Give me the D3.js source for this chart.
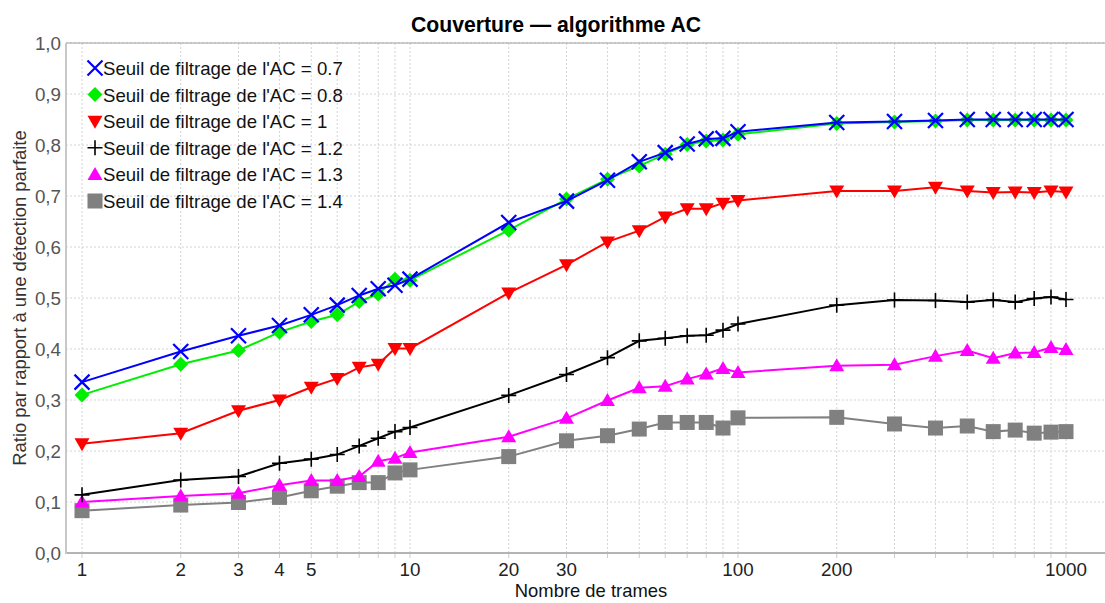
<!DOCTYPE html>
<html>
<head>
<meta charset="utf-8">
<script src="https://cdn.jsdelivr.net/npm/d3@7"></script>
<style>
  body { margin: 0; background: #fff; }
  text { font-family: "Liberation Sans", Arial, sans-serif; }
</style>
</head>
<body>
<script>
// data
var frames = [1,2,3,4,5,6,7,8,9,10,20,30,40,50,60,70,80,90,100,200,300,400,500,600,700,800,900,1000];
var xTickLabels = [1,2,3,4,5,10,20,30,100,200,1000];
var yTicks = [0,0.1,0.2,0.3,0.4,0.5,0.6,0.7,0.8,0.9,1.0];

var seuil07 = [0.335,0.395,0.426,0.446,0.467,0.486,0.505,0.518,0.525,0.537,0.648,0.690,0.731,0.767,0.785,0.802,0.812,0.813,0.826,0.844,0.846,0.848,0.850,0.850,0.850,0.850,0.850,0.850];
var seuil08 = [0.310,0.370,0.397,0.433,0.454,0.467,0.493,0.508,0.537,0.535,0.633,0.694,0.733,0.759,0.782,0.801,0.808,0.810,0.821,0.842,0.845,0.847,0.849,0.849,0.849,0.849,0.849,0.849];
var seuil10 = [0.214,0.235,0.279,0.300,0.325,0.342,0.364,0.370,0.401,0.401,0.510,0.565,0.610,0.632,0.659,0.675,0.675,0.686,0.691,0.710,0.710,0.717,0.710,0.707,0.708,0.707,0.710,0.708];
var seuil12 = [0.114,0.143,0.150,0.176,0.184,0.193,0.210,0.225,0.238,0.246,0.309,0.350,0.383,0.416,0.421,0.426,0.427,0.437,0.449,0.486,0.496,0.495,0.492,0.496,0.492,0.499,0.502,0.497];
var seuil13 = [0.100,0.112,0.117,0.133,0.142,0.142,0.150,0.180,0.186,0.197,0.228,0.264,0.299,0.324,0.327,0.341,0.351,0.362,0.354,0.367,0.369,0.386,0.397,0.382,0.392,0.393,0.403,0.399];
var seuil14 = [0.083,0.094,0.099,0.109,0.122,0.131,0.138,0.138,0.157,0.163,0.189,0.220,0.230,0.243,0.256,0.256,0.256,0.245,0.265,0.266,0.253,0.245,0.249,0.238,0.241,0.235,0.237,0.238];

var seriesNames = ["Seuil de filtrage de l'AC = 0.7","Seuil de filtrage de l'AC = 0.8","Seuil de filtrage de l'AC = 1","Seuil de filtrage de l'AC = 1.2","Seuil de filtrage de l'AC = 1.3","Seuil de filtrage de l'AC = 1.4"];
var seriesValues = [seuil07, seuil08, seuil10, seuil12, seuil13, seuil14];
var seriesColors = ["#0000ff","#00ee00","#ff0000","#000000","#ff00ff","#808080"];
var seriesSymbols = ["cross","diamond","down","plus","up","square"];

var width = 1105, height = 603;
var plotLeft = 66, plotRight = 1105, plotTop = 43, plotBottom = 553;

var svg = d3.select("body").append("svg")
	.attr("width", width)
	.attr("height", height);

var x = d3.scaleLog().domain([1, 1000]).range([82, 1066]);
var y = d3.scaleLinear().domain([0, 1]).range([plotBottom, plotTop]);

// grid
var gridX = [];
[1,10,100].forEach(function(d) { for (var k = 1; k < 10; k++) gridX.push(d*k); });
gridX.push(1000);

svg.append("g").selectAll("line.gx")
	.data(gridX)
	.enter().append("line")
	.attr("x1", function(d) { return x(d); })
	.attr("x2", function(d) { return x(d); })
	.attr("y1", plotTop)
	.attr("y2", plotBottom)
	.attr("stroke", "#d4d4d4")
	.attr("stroke-dasharray", "2,2")
	.attr("stroke-width", 1);

svg.append("g").selectAll("line.gy")
	.data(yTicks.slice(1))
	.enter().append("line")
	.attr("x1", plotLeft)
	.attr("x2", plotRight)
	.attr("y1", function(d) { return y(d); })
	.attr("y2", function(d) { return y(d); })
	.attr("stroke", "#d4d4d4")
	.attr("stroke-dasharray", "2,2")
	.attr("stroke-width", 1);

// frame
svg.append("line").attr("x1", plotLeft).attr("x2", plotRight).attr("y1", plotTop).attr("y2", plotTop)
	.attr("stroke", "#a0a0a0").attr("stroke-width", 1);
svg.append("line").attr("x1", plotLeft).attr("x2", plotRight).attr("y1", plotBottom).attr("y2", plotBottom)
	.attr("stroke", "#b4b4b4").attr("stroke-width", 2);
svg.append("line").attr("x1", plotLeft).attr("x2", plotLeft).attr("y1", plotTop).attr("y2", plotBottom + 1)
	.attr("stroke", "#c8c8c8").attr("stroke-width", 2);

// x ticks
svg.append("g").selectAll("line.tx")
	.data(gridX)
	.enter().append("line")
	.attr("x1", function(d) { return x(d); })
	.attr("x2", function(d) { return x(d); })
	.attr("y1", plotBottom + 1)
	.attr("y2", plotBottom + 5)
	.attr("stroke", "#cccccc");

svg.append("g").selectAll("text.xl")
	.data(xTickLabels)
	.enter().append("text")
	.attr("x", function(d) { return x(d); })
	.attr("y", 576)
	.attr("text-anchor", "middle")
	.attr("font-size", 18.8)
	.attr("fill", "#222")
	.text(function(d) { return d; });

svg.append("g").selectAll("text.yl")
	.data(yTicks)
	.enter().append("text")
	.attr("x", 61)
	.attr("y", function(d) { return y(d) + 7; })
	.attr("text-anchor", "end")
	.attr("font-size", 18.8)
	.attr("fill", "#555")
	.text(function(d) { return d.toFixed(1).replace(".", ","); });

// titles
svg.append("text")
	.attr("x", 556).attr("y", 32)
	.attr("text-anchor", "middle")
	.attr("font-size", 21.2)
	.attr("font-weight", "bold")
	.attr("fill", "#000")
	.text("Couverture \u2014 algorithme AC");

svg.append("text")
	.attr("x", 591).attr("y", 597)
	.attr("text-anchor", "middle")
	.attr("font-size", 18.4)
	.attr("fill", "#111")
	.text("Nombre de trames");

svg.append("text")
	.attr("transform", "translate(26," + ((plotTop + plotBottom) / 2) + ") rotate(-90)")
	.attr("text-anchor", "middle")
	.attr("font-size", 18.4)
	.attr("fill", "#333")
	.text("Ratio par rapport \u00e0 une d\u00e9tection parfaite");

// markers
function drawMarker(g, sym, color) {
	if (sym == "cross") {
		g.append("path").attr("d", "M-7.5,-7.5L7.5,7.5M-7.5,7.5L7.5,-7.5")
			.attr("stroke", color).attr("stroke-width", 2.2).attr("fill", "none");
	} else if (sym == "plus") {
		g.append("path").attr("d", "M-7.5,0L7.5,0M0,-7.5L0,7.5")
			.attr("stroke", color).attr("stroke-width", 1.6).attr("fill", "none");
	} else if (sym == "diamond") {
		g.append("path").attr("d", "M0,-7.5L7.5,0L0,7.5L-7.5,0Z").attr("fill", color);
	} else if (sym == "down") {
		g.append("path").attr("d", "M-7.5,-5.5L7.5,-5.5L0,7.5Z").attr("fill", color);
	} else if (sym == "up") {
		g.append("path").attr("d", "M-7.5,5.5L7.5,5.5L0,-7.5Z").attr("fill", color);
	} else if (sym == "square") {
		g.append("rect").attr("x", -7.5).attr("y", -7.5).attr("width", 15).attr("height", 15).attr("fill", color);
	}
}

var line = d3.line()
	.x(function(d) { return x(d[0]); })
	.y(function(d) { return y(d[1]); });

for (var s = seriesValues.length - 1; s >= 0; s--) {
	var pts = frames.map(function(f, i) { return [f, seriesValues[s][i]]; });
	var g = svg.append("g");
	g.append("path")
		.datum(pts)
		.attr("d", line)
		.attr("fill", "none")
		.attr("stroke", seriesColors[s])
		.attr("stroke-width", 2);
	g.selectAll("g.m")
		.data(pts)
		.enter().append("g")
		.attr("transform", function(d) { return "translate(" + x(d[0]) + "," + y(d[1]) + ")"; })
		.each(function() { drawMarker(d3.select(this), seriesSymbols[s], seriesColors[s]); });
}

// legend
var legend = svg.append("g");
seriesNames.forEach(function(name, i) {
	var ly = 68 + i * 26.6;
	var mg = legend.append("g").attr("transform", "translate(95," + ly + ")");
	drawMarker(mg, seriesSymbols[i], seriesColors[i]);
	legend.append("text")
		.attr("x", 103)
		.attr("y", ly + 7)
		.attr("font-size", 18.6)
		.attr("fill", "#111")
		.text(name);
});
</script>
</body>
</html>
